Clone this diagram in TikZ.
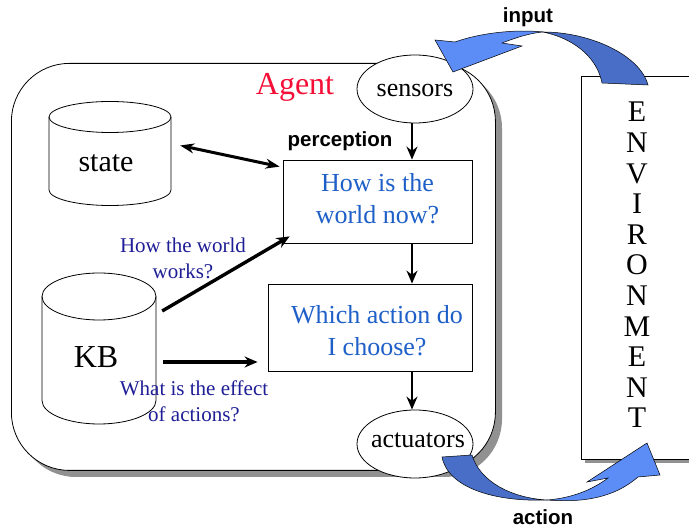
\documentclass[tikz,border=0pt]{standalone}
\usepackage{fontspec}
\setmainfont{Liberation Serif}
\newfontfamily\arialfont{Liberation Sans}
\usetikzlibrary{arrows.meta,calc,shapes.geometric}
\definecolor{agentred}{RGB}{245,15,55}
\definecolor{qblue}{RGB}{30,95,200}
\definecolor{navy}{RGB}{30,30,150}
\definecolor{shadowgray}{RGB}{145,145,145}
\definecolor{darkarrow}{RGB}{72,110,200}
\definecolor{lightarrow}{RGB}{92,140,245}
\begin{document}
\begin{tikzpicture}[x=1pt,y=-1pt,
  qbox/.style={draw, line width=0.8pt, fill=white, inner sep=0pt},
  oval/.style={draw, ellipse, line width=0.8pt, fill=white, inner sep=0pt},
  ovaltext/.style={anchor=base, font=\fontsize{26}{31}\selectfont, inner sep=0pt},
  qtext/.style={align=center, text=qblue, font=\fontsize{26}{32}\selectfont, inner sep=0pt},
  note/.style={align=center, text=navy, font=\fontsize{21}{26}\selectfont, inner sep=0pt},
  flow/.style={-{Stealth[length=13pt,width=11pt]}, line width=2.9pt},
  heavy/.style={-{Stealth[length=13pt,width=11pt]}, line width=3.4pt},
  heavyboth/.style={{Stealth[length=14pt,width=10pt]}-{Stealth[length=14pt,width=10pt]}, line width=3pt},
  sanslabel/.style={font=\arialfont\bfseries\fontsize{20.5}{24}\selectfont, inner sep=0pt, anchor=base},
  cyl/.style={draw, line width=0.8pt, fill=white},
  bluedark/.style={fill=darkarrow, draw=black, line width=0.5pt},
  bluelight/.style={fill=lightarrow, draw=black, line width=0.5pt},
  letter/.style={anchor=base, font=\fontsize{30}{30}\selectfont, inner sep=0pt}
]
\clip (0,0) rectangle (689,529);
\fill[white] (0,0) rectangle (689,529);

% environment
\fill[shadowgray] (585,80) rectangle (710,463);
\node[qbox, minimum width=129, minimum height=383, anchor=north west] (env) at (581,76) {};
\foreach \l [count=\i] in {E,N,V,I,R,O,N,M,E,N,T}
  \node[letter] (env-\i) at (637,{122+30.6*(\i-1)}) {\l};

% agent frame
\fill[shadowgray, rounded corners=58pt] (18,70) rectangle (502,477);
\node[draw, line width=0.8pt, fill=white, rounded corners=58pt, minimum width=484, minimum height=407, inner sep=0pt, anchor=north west] (agent) at (11,63) {};
\node[text=agentred, font=\fontsize{32}{38}\selectfont, anchor=base, inner sep=0pt] (agentlabel) at (295,95) {Agent};

% state cylinder
\draw[cyl] (49,117) -- (49,190) arc[start angle=180, end angle=0, x radius=61, y radius=15.5] -- (171,117) arc[start angle=0, end angle=-180, x radius=61, y radius=15.5] -- cycle;
\draw[line width=0.8pt] (49,117) arc[start angle=180, end angle=0, x radius=61, y radius=15.5];
\node[minimum width=122, minimum height=104, inner sep=0pt] (state) at (110,153.5) {};
\node[anchor=base, font=\fontsize{30}{36}\selectfont, inner sep=0pt] (statelabel) at (106,172) {state};

% KB cylinder
\draw[cyl] (42,296.5) -- (42,400.5) arc[start angle=180, end angle=0, x radius=57, y radius=23.5] -- (156,296.5) arc[start angle=0, end angle=-180, x radius=57, y radius=23.5] -- cycle;
\draw[line width=0.8pt] (42,296.5) arc[start angle=180, end angle=0, x radius=57, y radius=23.5];
\node[minimum width=114, minimum height=151, inner sep=0pt] (kb) at (99,348.5) {};
\node[anchor=base, font=\fontsize{32}{38}\selectfont, inner sep=0pt] (kblabel) at (96,368) {KB};

% boxes
\node[qbox, minimum width=189, minimum height=83] (now) at (377.5,201.5) {};
\node[qtext] (nowtext) at (377.5,199.1) {How is the\\world now?};
\node[qbox, minimum width=204, minimum height=87] (choose) at (370,327.5) {};
\node[qtext] (choosetext) at (377,331.1) {Which action do\\I choose?};

% sensors / actuators
\node[oval, minimum width=116, minimum height=68] (sensors) at (415,89) {};
\node[ovaltext] (sensorstext) at (415,97) {sensors};
\node[oval, minimum width=116, minimum height=68] (actuators) at (415,444) {};
\node[ovaltext] (actuatorstext) at (418,448) {actuators};

% flow arrows
\coordinate (axis) at (412,0);
\draw[flow] (axis |- sensors.south) -- (axis |- now.north);
\draw[flow] (axis |- now.south) -- (axis |- choose.north);
\draw[flow] (axis |- choose.south) -- (axis |- actuators.north);
\draw[heavyboth] ($(state.east)+(9,-8)$) -- ($(now.north west)+(-3,7)$);
\draw[heavy] ($(kb.east)+(6,-37.5)$) -- ($(now.south west)+(7,-7)$);
\draw[heavy] ($(kb.east)+(7,13.5)$) -- ($(choose.west)+(-10,34.5)$);

% labels
\node[sanslabel] (perception) at (340,147) {perception};
\node[note] (worldworks) at (183,257.9) {How the world\\works?};
\node[note] (effect) at (194,400.9) {What is the effect\\of actions?};

% input arrow
\draw[bluedark] (543,32) .. controls (590,32) and (640,55) .. (648,85) -- (602,83) .. controls (598,62) and (580,40) .. (543,32) -- cycle;
\draw[bluelight] (543,32) .. controls (515,29) and (480,33) .. (455,42) -- (435,40) -- (453,72) -- (522,46) -- (502,43) .. controls (515,38) and (530,33) .. (543,32) -- cycle;
\node[sanslabel] (input) at (528,23) {input};

% action arrow
\draw[bluedark] (442,457) -- (472,455) .. controls (480,482) and (512,498) .. (547,500) .. controls (495,502) and (448,488) .. (442,457) -- cycle;
\draw[bluelight] (547,500) .. controls (572,498) and (592,490) .. (608,478) -- (587,482) -- (647,443) -- (660,475) -- (638,477) .. controls (615,497) and (585,503) .. (547,500) -- cycle;
\node[sanslabel] (action) at (543,525) {action};
\end{tikzpicture}
\end{document}
